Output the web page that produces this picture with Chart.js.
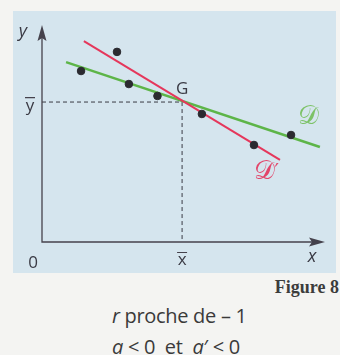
<!DOCTYPE html>
<html>
<head>
<meta charset="utf-8">
<script src="https://cdn.jsdelivr.net/npm/chart.js@4/dist/chart.umd.min.js"></script>
<style>
  html, body { margin: 0; padding: 0; }
  body { width: 340px; height: 355px; background: #f4f4f2; position: relative; overflow: hidden; }
  #box { position: absolute; left: 13px; top: 11px; width: 323px; height: 262px; background: #d5e5ee; }
  #fig { position: absolute; right: 1px; top: 277px; font: bold 18px "Liberation Serif", serif; color: #3c3c3c; }
  .cap { position: absolute; left: 112px; font: 20px "Open Sans", sans-serif; color: #3a3a3a; white-space: nowrap; letter-spacing: -0.3px; }
  #l1 { top: 302px; }
  #l2 { top: 333px; }
</style>
</head>
<body>
<div id="box"><canvas id="chart" width="323" height="262"></canvas></div>
<div id="fig">Figure 8</div>
<div class="cap" id="l1"><i>r</i> proche de – 1</div>
<div class="cap" id="l2"><i>a</i> &lt; 0 &nbsp;et&nbsp; <i>a</i>′ &lt; 0</div>
<script>
// nuage de points
const pointX = [1.38, 2.65, 3.07, 4.08, 5.65, 7.49, 8.80];
const pointY = [7.88, 8.76, 7.28, 6.73, 5.90, 4.47, 4.93];
// point moyen G
const gX = 4.95;
const gY = 6.45;
// droites D et D'
const lineDX = [0.85, 9.82];
const lineDY = [8.29, 4.38];
const lineD2X = [1.48, 8.41];
const lineD2Y = [9.26, 3.78];

const toPts = (xs, ys) => xs.map((x, i) => ({ x: x, y: ys[i] }));

// axes, flèches et libellés
const decor = {
    id: "decor",
    afterDatasetsDraw(chart) {
        const ctx = chart.ctx;
        const xs = chart.scales.x, ys = chart.scales.y;
        const x0 = xs.getPixelForValue(0), y0 = ys.getPixelForValue(0);
        const xEnd = xs.getPixelForValue(10), yTop = ys.getPixelForValue(10);
        const gx = xs.getPixelForValue(gX), gy = ys.getPixelForValue(gY);
        ctx.save();
        ctx.strokeStyle = "#45424c";
        ctx.fillStyle = "#45424c";
        ctx.lineWidth = 1.3;
        ctx.beginPath();
        ctx.moveTo(x0, yTop + 10);
        ctx.lineTo(x0, y0);
        ctx.lineTo(xEnd - 10, y0);
        ctx.stroke();
        // flèche y
        ctx.beginPath();
        ctx.moveTo(x0, yTop);
        ctx.lineTo(x0 - 4.5, yTop + 16);
        ctx.lineTo(x0, yTop + 13);
        ctx.lineTo(x0 + 4.5, yTop + 16);
        ctx.closePath();
        ctx.fill();
        // flèche x
        ctx.beginPath();
        ctx.moveTo(xEnd, y0);
        ctx.lineTo(xEnd - 16, y0 - 4.5);
        ctx.lineTo(xEnd - 13, y0);
        ctx.lineTo(xEnd - 16, y0 + 4.5);
        ctx.closePath();
        ctx.fill();

        ctx.fillStyle = "#3a3a44";
        ctx.textAlign = "center";
        ctx.textBaseline = "alphabetic";
        ctx.font = "italic 18px 'Open Sans', sans-serif";
        ctx.fillText("y", x0 - 19, yTop + 12);
        ctx.fillText("x", xEnd - 13, y0 + 20);
        ctx.font = "17px 'Open Sans', sans-serif";
        ctx.fillText("0", x0 - 9, y0 + 26);
        ctx.fillText("G", gx, gy - 8);
        ctx.fillText("y", x0 - 12, gy + 9);
        ctx.fillText("x", gx, y0 + 23);
        ctx.lineWidth = 1.2;
        ctx.beginPath();
        ctx.moveTo(x0 - 17, gy - 4.5);
        ctx.lineTo(x0 - 7, gy - 4.5);
        ctx.moveTo(gx - 5, y0 + 10.5);
        ctx.lineTo(gx + 5, y0 + 10.5);
        ctx.stroke();

        // libellés des droites
        ctx.font = "26px serif";
        ctx.fillStyle = "#7cc266";
        ctx.fillText("𝒟", xs.getPixelForValue(9.4), ys.getPixelForValue(5.45));
        ctx.fillStyle = "#e2456a";
        ctx.fillText("𝒟", xs.getPixelForValue(7.85), ys.getPixelForValue(2.9));
        ctx.font = "20px 'DejaVu Sans', sans-serif";
        ctx.fillText("′", xs.getPixelForValue(8.3), ys.getPixelForValue(3.0));
        ctx.restore();
    }
};

new Chart(document.getElementById("chart").getContext("2d"), {
    type: "scatter",
    data: {
        datasets: [
            {
                label: "points",
                data: toPts(pointX, pointY),
                backgroundColor: "#2b2a30",
                borderColor: "#2b2a30",
                pointRadius: 3.8,
                order: 0
            },
            {
                type: "line",
                label: "D",
                data: toPts(lineDX, lineDY),
                borderColor: "#5db548",
                borderWidth: 2.5,
                pointRadius: 0,
                order: 2
            },
            {
                type: "line",
                label: "D'",
                data: toPts(lineD2X, lineD2Y),
                borderColor: "#e5375b",
                borderWidth: 2,
                pointRadius: 0,
                order: 1
            },
            {
                type: "line",
                label: "ybar",
                data: [{ x: 0, y: gY }, { x: gX, y: gY }],
                borderColor: "#3a3a44",
                borderWidth: 1,
                borderDash: [4, 3],
                pointRadius: 0,
                order: 3
            },
            {
                type: "line",
                label: "xbar",
                data: [{ x: gX, y: gY }, { x: gX, y: 0 }],
                borderColor: "#3a3a44",
                borderWidth: 1,
                borderDash: [4, 3],
                pointRadius: 0,
                order: 3
            }
        ]
    },
    options: {
        responsive: false,
        animation: false,
        layout: { padding: { left: 29, right: 11, top: 14, bottom: 31 } },
        plugins: { legend: { display: false }, tooltip: { enabled: false } },
        scales: {
            x: { type: "linear", min: 0, max: 10, display: false },
            y: { type: "linear", min: 0, max: 10, display: false }
        }
    },
    plugins: [decor]
});
</script>
</body>
</html>
